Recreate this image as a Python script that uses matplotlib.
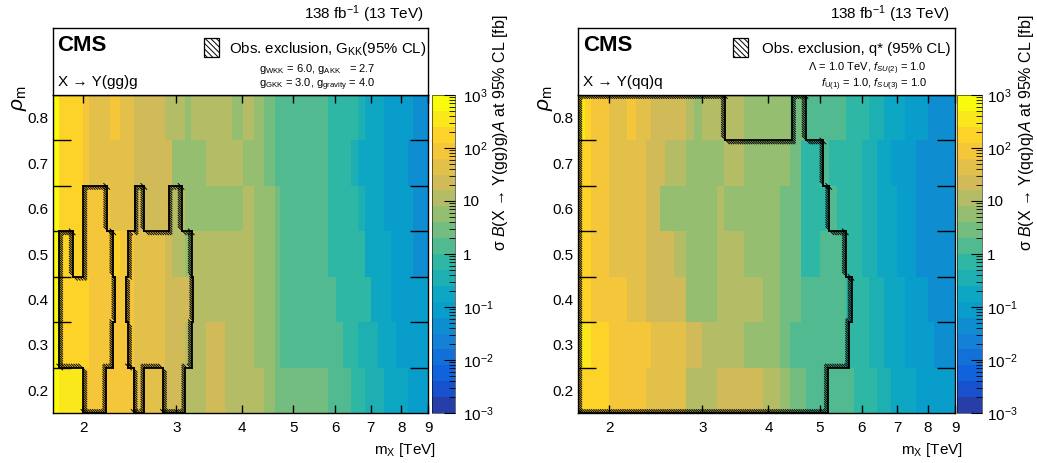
#!/usr/bin/env python3
# Observed 95% CL limit maps for X -> Y(gg)g and X -> Y(qq)q in the (m_X, rho_m) plane
import numpy as np
import matplotlib
matplotlib.use('Agg')
import matplotlib.pyplot as plt
from matplotlib import patheffects
from matplotlib.colors import LinearSegmentedColormap, ListedColormap, LogNorm
from matplotlib.patches import Rectangle
from matplotlib.ticker import FixedLocator, FixedFormatter, NullFormatter, NullLocator, LogLocator

plt.rcParams['font.family'] = ['Liberation Sans', 'DejaVu Sans']
plt.rcParams['mathtext.fontset'] = 'custom'
plt.rcParams['mathtext.rm'] = 'Liberation Sans'
plt.rcParams['mathtext.it'] = 'Liberation Sans:italic'
plt.rcParams['mathtext.bf'] = 'Liberation Sans:bold'
plt.rcParams['hatch.linewidth'] = 0.7

# rho_m bins shared by both maps
rho_edges = [0.15, 0.25, 0.35, 0.45, 0.55, 0.65, 0.75, 0.85]
rho_centres = [0.2, 0.3, 0.4, 0.5, 0.6, 0.7, 0.8]
rho_labels = ['0.2', '0.3', '0.4', '0.5', '0.6', '0.7', '0.8']
mass_ticks = [2, 3, 4, 5, 6, 7, 8, 9]
cb_ticks = [1e-3, 1e-2, 1e-1, 1, 10, 1e2, 1e3]
cb_labels = ['10$^{-3}$', '10$^{-2}$', '10$^{-1}$', '1', '10', '10$^{2}$', '10$^{3}$']

# X -> Y(gg)g, observed limit [fb]; rows go from rho_m = 0.8 (top) to 0.2 (bottom)
gg_mass_edges = [1.75, 1.80, 2.00, 2.05, 2.25, 2.35, 2.49, 2.86, 2.95, 3.11, 3.20, 3.41,
                 3.71, 3.82, 4.01, 4.21, 4.40, 4.61, 4.71, 5.81, 6.03, 6.20, 6.43, 6.62,
                 6.82, 7.02, 7.23, 7.42, 7.64, 7.83, 8.24, 8.42, 9.00]
gg_limits = [
    [700, 180, 90, 45, 90, 45, 22, 11, 11, 5.6, 11, 11, 11, 5.6, 11, 5.6, 2.8, 1.4, 1.4, 0.7,
     0.7, 0.7, 0.7, 0.35, 0.18, 0.18, 0.18, 0.09, 0.09, 0.09, 0.09, 0.045],
    [700, 180, 90, 45, 45, 45, 22, 22, 5.6, 5.6, 5.6, 11, 11, 11, 5.6, 5.6, 2.8, 1.4, 1.4, 0.7,
     0.7, 0.7, 0.35, 0.18, 0.18, 0.18, 0.18, 0.09, 0.09, 0.09, 0.045, 0.045],
    [700, 180, 90, 90, 45, 45, 22, 22, 11, 5.6, 5.6, 5.6, 5.6, 5.6, 11, 5.6, 5.6, 2.8, 1.4, 0.7,
     0.7, 0.7, 0.7, 0.35, 0.18, 0.18, 0.18, 0.09, 0.09, 0.09, 0.09, 0.045],
    [700, 180, 90, 90, 180, 90, 45, 22, 11, 5.6, 11, 11, 11, 11, 11, 5.6, 5.6, 2.8, 1.4, 0.7,
     0.7, 0.7, 0.7, 0.7, 0.18, 0.18, 0.18, 0.18, 0.09, 0.09, 0.09, 0.045],
    [700, 180, 180, 90, 90, 90, 45, 22, 22, 22, 11, 11, 11, 11, 11, 5.6, 5.6, 2.8, 1.4, 1.4,
     0.7, 0.7, 0.7, 0.7, 0.7, 0.18, 0.18, 0.18, 0.09, 0.09, 0.09, 0.09],
    [700, 180, 180, 90, 90, 90, 45, 22, 22, 11, 11, 22, 11, 11, 11, 5.6, 5.6, 2.8, 1.4, 1.4,
     1.4, 0.7, 0.7, 0.35, 0.35, 0.35, 0.18, 0.18, 0.18, 0.09, 0.09, 0.09],
    [700, 350, 90, 90, 90, 90, 45, 22, 22, 11, 11, 22, 11, 11, 11, 11, 5.6, 2.8, 2.8, 1.4,
     1.4, 1.4, 0.7, 0.7, 0.35, 0.35, 0.35, 0.18, 0.18, 0.18, 0.09, 0.09],
]
# excluded regions (G_KK), closed step contours
gg_excl_a_mass = [1.80, 1.91, 1.91, 2.00, 2.00, 2.22, 2.22, 2.28, 2.28, 2.30, 2.30, 2.28,
                  2.28, 2.21, 2.21, 2.00, 2.00, 1.80]
gg_excl_a_rho = [0.55, 0.55, 0.45, 0.45, 0.65, 0.65, 0.55, 0.55, 0.45, 0.45, 0.35, 0.35,
                 0.25, 0.25, 0.15, 0.15, 0.25, 0.25]
gg_excl_b_mass = [2.43, 2.43, 2.41, 2.41, 2.43, 2.43, 2.49, 2.49, 2.61, 2.61, 2.83, 2.83,
                  3.12, 3.12, 3.21, 3.21, 3.23, 3.23, 3.21, 3.21, 3.07, 3.07, 2.90, 2.90,
                  2.61, 2.61, 2.50, 2.50]
gg_excl_b_rho = [0.55, 0.45, 0.45, 0.35, 0.35, 0.25, 0.25, 0.15, 0.15, 0.25, 0.25, 0.15,
                 0.15, 0.25, 0.25, 0.35, 0.35, 0.45, 0.45, 0.55, 0.55, 0.65, 0.65, 0.55,
                 0.55, 0.65, 0.65, 0.55]

# X -> Y(qq)q, observed limit [fb]; rows go from rho_m = 0.8 (top) to 0.2 (bottom)
qq_mass_edges = [1.75, 1.80, 1.85, 2.00, 2.16, 2.25, 2.35, 2.40, 2.50, 2.55, 2.65, 2.80,
                 2.90, 3.00, 3.20, 3.30, 3.60, 3.90, 4.20, 4.40, 4.60, 4.70, 5.00, 5.20,
                 5.40, 5.60, 5.80, 6.00, 6.20, 6.40, 6.60, 6.80, 7.00, 7.25, 7.60, 8.00,
                 8.20, 9.00]
qq_limits = [
    [350, 180, 90, 45, 90, 45, 45, 22, 22, 22, 22, 11, 5.6, 11, 11, 11, 5.6, 5.6, 5.6, 2.8,
     2.8, 1.4, 1.4, 1.4, 1.4, 0.7, 0.7, 0.7, 0.35, 0.35, 0.18, 0.18, 0.18, 0.09, 0.09, 0.045,
     0.045],
    [180, 180, 90, 45, 45, 45, 22, 22, 22, 11, 11, 5.6, 5.6, 5.6, 5.6, 11, 5.6, 5.6, 5.6, 2.8,
     0.7, 0.7, 1.4, 0.7, 0.7, 0.7, 0.7, 0.35, 0.35, 0.18, 0.18, 0.09, 0.09, 0.09, 0.045,
     0.045, 0.045],
    [180, 180, 90, 45, 45, 45, 22, 22, 5.6, 5.6, 5.6, 5.6, 5.6, 5.6, 11, 5.6, 5.6, 5.6, 2.8,
     2.8, 0.7, 0.7, 0.7, 1.4, 0.7, 0.7, 0.7, 0.35, 0.35, 0.18, 0.18, 0.18, 0.09, 0.09, 0.045,
     0.045, 0.045],
    [180, 180, 90, 45, 45, 45, 22, 22, 22, 22, 11, 5.6, 5.6, 5.6, 11, 11, 5.6, 5.6, 2.8, 2.8,
     0.7, 0.7, 1.4, 1.4, 1.4, 0.7, 0.7, 0.35, 0.35, 0.18, 0.18, 0.18, 0.09, 0.09, 0.045,
     0.045, 0.045],
    [180, 180, 90, 90, 45, 45, 22, 22, 22, 22, 22, 5.6, 5.6, 5.6, 11, 11, 11, 5.6, 2.8, 2.8,
     1.4, 1.4, 1.4, 1.4, 1.4, 0.7, 0.7, 0.7, 0.35, 0.35, 0.18, 0.18, 0.18, 0.09, 0.09, 0.045,
     0.045],
    [350, 350, 180, 90, 90, 90, 90, 45, 45, 45, 45, 22, 22, 11, 11, 11, 5.6, 5.6, 2.8, 1.4,
     1.4, 1.4, 1.4, 1.4, 1.4, 0.7, 0.7, 0.7, 0.35, 0.35, 0.18, 0.18, 0.18, 0.09, 0.09, 0.09,
     0.045],
    [180, 180, 180, 90, 90, 90, 45, 45, 45, 45, 45, 11, 11, 11, 22, 22, 22, 11, 5.6, 2.8,
     2.8, 1.4, 1.4, 1.4, 1.4, 1.4, 0.7, 0.7, 0.7, 0.35, 0.35, 0.18, 0.18, 0.18, 0.09, 0.09,
     0.09],
]
# excluded region (q*), closed step contour
qq_excl_mass = [1.75, 5.18, 5.18, 5.68, 5.68, 5.74, 5.74, 5.60, 5.60, 5.21, 5.21, 5.08,
                5.08, 4.70, 4.70, 4.43, 4.43, 3.31, 3.31, 1.75]
qq_excl_rho = [0.15, 0.15, 0.25, 0.25, 0.35, 0.35, 0.45, 0.45, 0.55, 0.55, 0.65, 0.65,
               0.75, 0.75, 0.85, 0.85, 0.75, 0.75, 0.85, 0.85]

# ROOT kBird palette, 20 contour levels
bird_stops = [0.0, 0.125, 0.25, 0.375, 0.5, 0.625, 0.75, 0.875, 1.0]
bird_red = [0.2082, 0.0592, 0.0780, 0.0232, 0.1802, 0.5301, 0.8186, 0.9956, 0.9764]
bird_green = [0.1664, 0.3599, 0.5041, 0.6419, 0.7178, 0.7492, 0.7328, 0.7862, 0.9832]
bird_blue = [0.5293, 0.8684, 0.8385, 0.7914, 0.6425, 0.4662, 0.3499, 0.1968, 0.0539]
bird = LinearSegmentedColormap.from_list(
    'bird', list(zip(bird_stops, zip(bird_red, bird_green, bird_blue))), N=255)
n_levels = 20
palette = ListedColormap([bird(int((k + 0.99) * 255 / n_levels) / 254.0) for k in range(n_levels)])
norm = LogNorm(1e-3, 1e3)

W, H = 1037, 463
fig = plt.figure(figsize=(W / 100, H / 100), dpi=100)


def px_rect(x0, y0, x1, y1):
    # pixel box (origin top-left) -> figure fraction
    return [x0 / W, 1 - y1 / H, (x1 - x0) / W, (y1 - y0) / H]


def draw_exclusion(ax, mass, rho):
    xs = list(mass) + [mass[0]]
    ys = list(rho) + [rho[0]]
    area = sum(xs[i] * ys[i + 1] - xs[i + 1] * ys[i] for i in range(len(mass)))
    inside = 1 if area > 0 else -1
    for x0, x1, y0, y1 in zip(xs[:-1], xs[1:], ys[:-1], ys[1:]):
        heading = np.degrees(np.arctan2(np.sign(y1 - y0), np.sign(x1 - x0)))
        # hatch strokes all lean the same way, on the excluded side
        for hatch_dir in (135.0, -45.0):
            rel = (hatch_dir - heading + 180.0) % 360.0 - 180.0
            if rel * inside > 0:
                break
        ax.plot([x0, x1], [y0, y1], color='black', lw=1.3,
                path_effects=[patheffects.withTickedStroke(angle=rel, spacing=1.6, length=2.2,
                                                           linewidth=0.7)])


def draw_panel(box, cbox, mass_edges, limits, exclusions, cb_title, cb_title_x, cb_pad):
    ax = fig.add_axes(px_rect(*box))
    z = np.array(limits)[::-1]
    mesh = ax.pcolormesh(mass_edges, rho_edges, z, cmap=palette, norm=norm, shading='flat')
    ax.set_xscale('log')
    ax.set_xlim(1.75, 9.0)
    ax.set_ylim(0.15, 0.85)

    ax.xaxis.set_major_locator(FixedLocator(mass_ticks))
    ax.xaxis.set_major_formatter(FixedFormatter([str(m) for m in mass_ticks]))
    ax.xaxis.set_minor_locator(NullLocator())
    ax.tick_params(axis='x', which='major', direction='in', top=True, length=6, width=1,
                   labelsize=11, pad=5.5)

    # bin labels at row centres, tick marks at row boundaries
    ax.yaxis.set_major_locator(FixedLocator(rho_edges[1:-1]))
    ax.yaxis.set_major_formatter(NullFormatter())
    ax.yaxis.set_minor_locator(FixedLocator(rho_centres))
    ax.yaxis.set_minor_formatter(FixedFormatter(rho_labels))
    ax.tick_params(axis='y', which='major', direction='in', left=True, right=True,
                   length=13, width=1)
    ax.tick_params(axis='y', which='minor', length=0, labelsize=11, pad=3.3)
    for s in ax.spines.values():
        s.set_linewidth(1.0)
        s.set_zorder(5)

    for mass, rho in exclusions:
        draw_exclusion(ax, mass, rho)

    cax = fig.add_axes(px_rect(*cbox))
    cb = fig.colorbar(mesh, cax=cax)
    cb.outline.set_linewidth(0.4)
    cax.yaxis.set_major_locator(FixedLocator(cb_ticks))
    cax.yaxis.set_major_formatter(FixedFormatter(cb_labels))
    cax.yaxis.set_minor_locator(LogLocator(base=10, subs=np.arange(2, 10)))
    cax.yaxis.set_minor_formatter(NullFormatter())
    cax.tick_params(which='major', direction='in', length=8, width=0.8, labelsize=11, pad=cb_pad)
    cax.tick_params(which='minor', direction='in', length=4, width=0.6)

    fig.text(cb_title_x / W, 1 - 14 / H, cb_title, rotation=90, ha='center', va='top',
             fontsize=11.5)
    fig.text((box[0] - 33) / W, 1 - 85 / H, r'$\rho_{\mathrm{m}}$', rotation=90,
             ha='center', va='top', fontsize=15)
    fig.text((box[2] + 8) / W, 1 - 450 / H, r'm$_{\mathrm{X}}$ [TeV]', ha='right',
             va='center', fontsize=11)
    fig.text((box[2] - 5) / W, 1 - 14 / H, r'138 fb$^{-1}$ (13 TeV)', ha='right',
             va='center', fontsize=11)
    return ax


def draw_header(box, channel, legend_text, coupling_lines, legend_x, text_x, coupl_x, coupl_ha):
    hax = fig.add_axes(px_rect(box[0], 28, box[2], box[1]))
    hax.set_xticks([])
    hax.set_yticks([])
    hax.set_xlim(0, 1)
    hax.set_ylim(0, 1)
    for s in hax.spines.values():
        s.set_linewidth(1.0)
    hax.text(0.013, 0.74, 'CMS', fontsize=16, fontweight='bold', ha='left', va='center')
    hax.text(0.013, 0.19, channel, fontsize=11, ha='left', va='center')
    hax.add_patch(Rectangle((legend_x, 0.57), 0.04, 0.28, facecolor='white', edgecolor='black',
                            lw=0.9, hatch='\\\\\\\\\\\\'))
    hax.text(text_x, 0.69, legend_text, fontsize=10.8, ha='left', va='center')
    hax.text(coupl_x, 0.39, coupling_lines[0], fontsize=8, ha=coupl_ha, va='center')
    hax.text(coupl_x, 0.15, coupling_lines[1], fontsize=8, ha=coupl_ha, va='center')


left_box = (52.7, 95, 428.3, 413)
right_box = (578.3, 95, 955, 413)

draw_panel(left_box, (431.7, 95, 455, 413), gg_mass_edges, gg_limits,
           [(gg_excl_a_mass, gg_excl_a_rho), (gg_excl_b_mass, gg_excl_b_rho)],
           r'σ $\mathit{B}$(X → Y(gg)g)$\mathit{A}$ at 95% CL [fb]', 501, 5.8)
draw_panel(right_box, (957.3, 95, 981.7, 413), qq_mass_edges, qq_limits,
           [(qq_excl_mass, qq_excl_rho)],
           r'σ $\mathit{B}$(X → Y(qq)q)$\mathit{A}$ at 95% CL [fb]', 1027, 4.0)

draw_header(left_box, 'X → Y(gg)g', r'Obs. exclusion, G$_{\mathrm{KK}}$(95% CL)',
            [r'g$_{\mathrm{WKK}}$ = 6.0, g$_{\mathrm{AKK}}$   = 2.7',
             r'g$_{\mathrm{GKK}}$ = 3.0, g$_{\mathrm{gravity}}$ = 4.0'],
            0.403, 0.470, 0.549, 'left')
draw_header(right_box, 'X → Y(qq)q', 'Obs. exclusion, q* (95% CL)',
            [r'$\mathit{\Lambda}$ = 1.0 TeV, $\mathit{f}_{\mathit{SU(2)}}$ = 1.0',
             r'$\mathit{f}_{\mathrm{U(1)}}$ = 1.0, $\mathit{f}_{\mathit{SU(3)}}$ = 1.0'],
            0.411, 0.488, 0.9255, 'right')

fig.savefig('out.png', dpi=100)
